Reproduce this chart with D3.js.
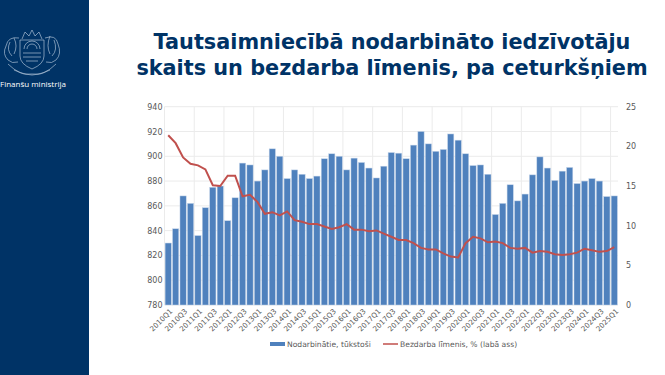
<!DOCTYPE html>
<html>
<head>
<meta charset="utf-8">
<script src="https://cdn.jsdelivr.net/npm/d3@7"></script>
<style>
    html, body { margin: 0; padding: 0; background: #fff; }
    svg { display: block; }
    text { font-family: "DejaVu Sans", sans-serif; }
    .axis path, .axis line { display: none; }
    .axis text { font-size: 8px; fill: #595959; }
</style>
</head>
<body>
<div id="chart"></div>
<script>
// quarters, 2010Q1 - 2025Q1
const years = d3.range(2010, 2026);
const quarters = years.flatMap(y => ["Q1", "Q2", "Q3", "Q4"].map(q => y + q)).slice(0, 61);

// Nodarbinatie, tukstosi
const employed = [
    830, 841.5, 868, 862, 836, 858.5, 875, 876, 848, 866.5, 894.5, 893,
    880, 889, 906, 900, 882, 889, 885.5, 882, 884, 898, 902, 900,
    889, 898.5, 895, 890.5, 882.5, 892, 903, 902.5, 898, 909, 920, 910,
    904, 905.5, 918, 913, 902, 892.5, 893, 885.5, 853, 862, 877, 864,
    869.5, 885, 899.5, 890.5, 880.5, 888, 891, 878, 880, 882, 880, 867.5, 868
];

// Bezdarba limenis, %
const unemployment = [
    21.4, 20.4, 18.6, 17.8, 17.6, 17.1, 15.1, 15.0, 16.3, 16.3, 13.7, 13.9,
    13.0, 11.5, 11.7, 11.3, 11.8, 10.7, 10.5, 10.2, 10.2, 9.9, 9.6, 9.8,
    10.2, 9.5, 9.5, 9.3, 9.4, 9.0, 8.6, 8.2, 8.2, 7.8, 7.2, 7.0,
    7.0, 6.5, 6.1, 6.0, 7.8, 8.6, 8.4, 7.9, 8.0, 7.8, 7.2, 7.1,
    7.2, 6.6, 6.8, 6.7, 6.4, 6.3, 6.4, 6.6, 7.1, 6.9, 6.7, 6.8, 7.3
];

const leftTicks = d3.range(780, 941, 20);
const rightTicks = d3.range(0, 26, 5);

const width = 665, height = 375;
const margin = {top: 106.7, right: 47, bottom: 70, left: 164.5};

const svg = d3.select("#chart").append("svg")
    .attr("width", width)
    .attr("height", height);

// side panel
svg.append("rect")
    .attr("width", 89)
    .attr("height", height)
    .attr("fill", "#003366");

// emblem, rough outline only
const logo = svg.append("g")
    .attr("transform", "translate(32,50)")
    .attr("fill", "none")
    .attr("stroke", "#a9bdd2")
    .attr("stroke-width", 0.7);
logo.append("path").attr("d", "M-12,-10 H12 V6 Q12,14 0,19 Q-12,14 -12,6 Z");
logo.append("path").attr("d", "M-8,-1 A8,8 0 0 1 8,-1 M-5,-1 A5,5 0 0 1 5,-1");
logo.append("path").attr("d", "M-9,3 H9 M-9,7 H9 M-6,11 H6");
logo.append("path").attr("d", "M-10,-11 L-7,-18 L-3,-14 L0,-20 L3,-14 L7,-18 L10,-11");
logo.append("path").attr("d", "M-13,-12 Q-24,-14 -26,-4 Q-30,4 -24,10 Q-20,14 -14,12 M-22,-8 Q-26,0 -20,6 M-18,-12 Q-14,-4 -18,4");
logo.append("path").attr("d", "M13,-12 Q24,-16 26,-6 Q30,4 24,10 Q20,14 14,12 M22,-10 Q26,0 20,6 M18,-14 Q14,-4 18,4");
logo.append("path").attr("d", "M-24,14 Q-12,26 0,24 Q12,26 24,14 M-18,20 Q0,30 18,20");

svg.append("text")
    .attr("x", 0)
    .attr("y", 87)
    .attr("font-size", 8)
    .attr("fill", "#ffffff")
    .style("font-family", "'Open Sans', sans-serif")
    .text("Finanšu ministrija");

// title
const title = svg.append("text")
    .attr("text-anchor", "middle")
    .attr("font-weight", "bold")
    .attr("font-size", 20.8)
    .attr("fill", "#003366");
title.append("tspan").attr("x", 392).attr("y", 49).text("Tautsaimniecībā nodarbināto iedzīvotāju");
title.append("tspan").attr("x", 392).attr("y", 75).text("skaits un bezdarba līmenis, pa ceturkšņiem");

const plotRight = width - margin.right;
const plotBottom = height - margin.bottom;

const x = d3.scaleBand()
    .domain(quarters)
    .range([margin.left, plotRight])
    .paddingInner(0.16)
    .paddingOuter(0.08);

const yLeft = d3.scaleLinear().domain([780, 940]).range([plotBottom, margin.top]);
const yRight = d3.scaleLinear().domain([0, 25]).range([plotBottom, margin.top]);

// gridlines
svg.append("g").selectAll("line")
    .data(leftTicks)
    .join("line")
    .attr("x1", margin.left)
    .attr("x2", plotRight)
    .attr("y1", d => yLeft(d))
    .attr("y2", d => yLeft(d))
    .attr("stroke", "#ebebeb");

svg.append("g").selectAll("line")
    .data(quarters.filter((d, i) => i % 4 === 0))
    .join("line")
    .attr("x1", d => x(d) - x.bandwidth() * 0.095)
    .attr("x2", d => x(d) - x.bandwidth() * 0.095)
    .attr("y1", margin.top)
    .attr("y2", plotBottom)
    .attr("stroke", "#ebebeb");

// bars
svg.append("g").selectAll("rect")
    .data(employed)
    .join("rect")
    .attr("x", (d, i) => x(quarters[i]))
    .attr("y", d => yLeft(d))
    .attr("width", x.bandwidth())
    .attr("height", d => plotBottom - yLeft(d))
    .attr("fill", "#4f81bd")
    .attr("stroke", "#c6d6ea")
    .attr("stroke-width", 0.5);

// line
const line = d3.line()
    .x((d, i) => x(quarters[i]) + x.bandwidth() / 2)
    .y(d => yRight(d));

svg.append("path")
    .datum(unemployment)
    .attr("d", line)
    .attr("fill", "none")
    .attr("stroke", "#c0504d")
    .attr("stroke-width", 2);

// axes
svg.append("g")
    .attr("class", "axis")
    .attr("transform", `translate(${margin.left - 2},0)`)
    .call(d3.axisLeft(yLeft).tickValues(leftTicks).tickSize(0).tickPadding(0));

svg.append("g")
    .attr("class", "axis")
    .attr("transform", `translate(${plotRight + 8},0)`)
    .call(d3.axisRight(yRight).tickValues(rightTicks).tickSize(0).tickPadding(0));

const xAxis = svg.append("g")
    .attr("class", "axis")
    .attr("transform", `translate(0,${plotBottom})`)
    .call(d3.axisBottom(x).tickValues(quarters.filter((d, i) => i % 2 === 0)).tickSize(0).tickPadding(0));

xAxis.selectAll("text")
    .style("font-size", "7.2px")
    .attr("text-anchor", "end")
    .attr("x", 3)
    .attr("y", 5)
    .attr("dy", "0.35em")
    .attr("transform", "rotate(-45,3,5)");

// legend
const legend = svg.append("g").attr("font-size", 7.6).attr("fill", "#595959");

legend.append("rect")
    .attr("x", 270).attr("y", 342)
    .attr("width", 15).attr("height", 4)
    .attr("fill", "#4f81bd");
legend.append("text").attr("x", 287).attr("y", 347).text("Nodarbinātie, tūkstoši");

legend.append("line")
    .attr("x1", 383).attr("x2", 398)
    .attr("y1", 344).attr("y2", 344)
    .attr("stroke", "#c0504d")
    .attr("stroke-width", 1.5);
legend.append("text").attr("x", 400).attr("y", 347).text("Bezdarba līmenis, % (labā ass)");
</script>
</body>
</html>
